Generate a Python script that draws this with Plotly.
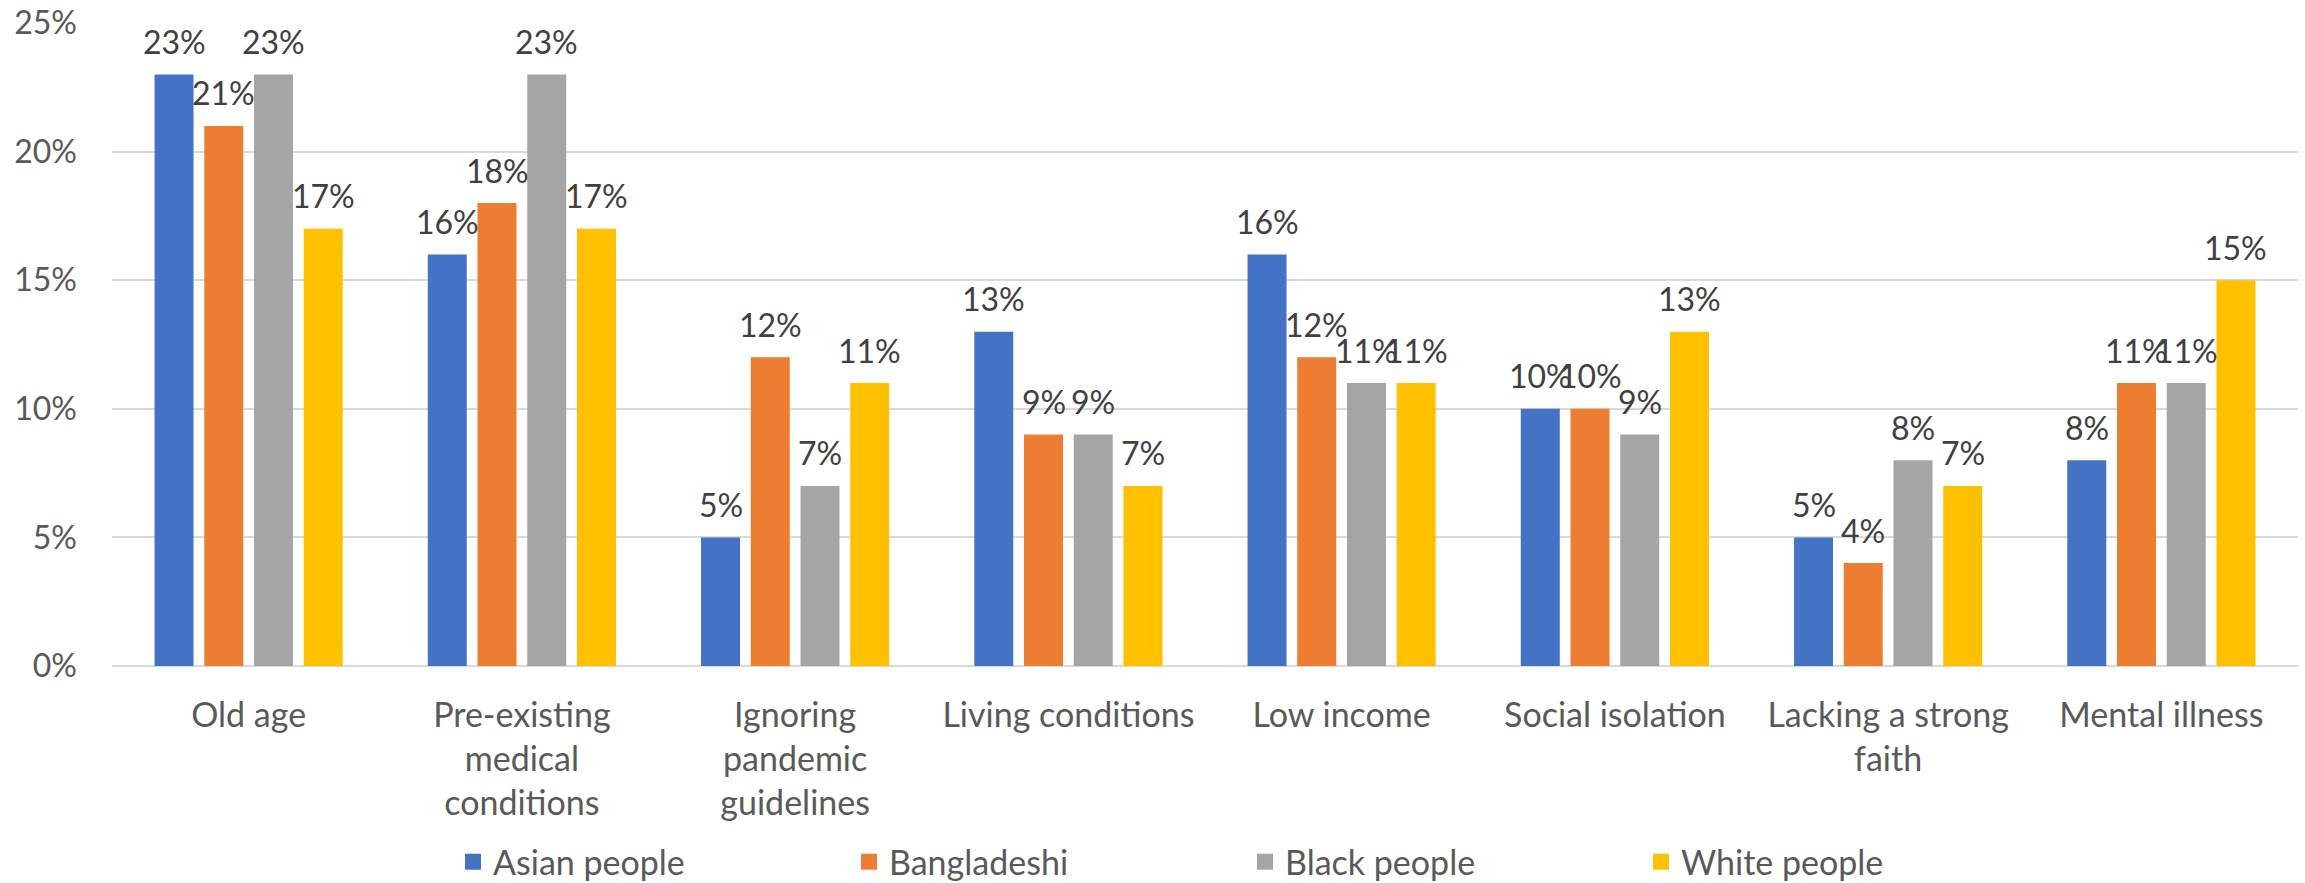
import plotly.graph_objects as go

categories = ["Old age", "Pre-existing<br>medical<br>conditions", "Ignoring<br>pandemic<br>guidelines",
              "Living conditions", "Low income", "Social isolation", "Lacking a strong<br>faith", "Mental illness"]
series_names = ["Asian people", "Bangladeshi", "Black people", "White people"]
asian = [23, 16, 5, 13, 16, 10, 5, 8]
bangladeshi = [21, 18, 12, 9, 12, 10, 4, 11]
black = [23, 23, 7, 9, 11, 9, 8, 11]
white = [17, 17, 11, 7, 11, 13, 7, 15]
y_ticks = [0, 5, 10, 15, 20, 25]
y_tick_labels = ["0%", "5%", "10%", "15%", "20%", "25%"]

series_values = [asian, bangladeshi, black, white]
colors = ["#4472C4", "#ED7D31", "#A5A5A5", "#FFC000"]

FONT = "Lato"
BARGAP = 0.272
BARGROUPGAP = 0.216
n = len(series_names)
slot = (1 - BARGAP) / n
x_idx = list(range(len(categories)))

fig = go.Figure()
for k, (name, vals, col) in enumerate(zip(series_names, series_values, colors)):
    fig.add_trace(go.Bar(x=x_idx, y=vals, name=name, marker=dict(color=col, line=dict(width=0)),
                         showlegend=False, legendgroup=name))
    fig.add_trace(go.Scatter(x=[None], y=[None], mode="markers", name=name, legendgroup=name,
                             marker=dict(symbol="square", size=16, color=col), showlegend=True))
    off = (k - (n - 1) / 2) * slot
    for i, v in enumerate(vals):
        fig.add_annotation(x=i + off, y=v, text=f"{v}%", showarrow=False, yanchor="middle",
                           yshift=33, font=dict(family=FONT, size=32, color="#404040"))

fig.update_layout(
    width=2305, height=883,
    margin=dict(l=112, r=7, t=23, b=217, autoexpand=False),
    paper_bgcolor="white", plot_bgcolor="white",
    barmode="group", bargap=BARGAP, bargroupgap=BARGROUPGAP,
    font=dict(family=FONT, color="#595959"),
    legend=dict(orientation="h", x=0.156, xanchor="left", y=-0.305, yanchor="middle",
                entrywidth=351, entrywidthmode="pixels",
                font=dict(family=FONT, size=34, color="#595959"), bgcolor="rgba(0,0,0,0)"),
)
fig.update_xaxes(range=[-0.5, len(categories) - 0.5], tickvals=x_idx, ticktext=categories,
                 showgrid=False, zeroline=False, showline=False, ticks="",
                 tickfont=dict(family=FONT, size=34, color="#595959"), ticklabelstandoff=26)
fig.update_yaxes(range=[0, 25], tickvals=y_ticks, ticktext=y_tick_labels, showgrid=True, gridcolor="#D9D9D9",
                 gridwidth=2, zeroline=True, zerolinecolor="#D9D9D9", zerolinewidth=2, showline=False,
                 ticks="", tickfont=dict(family=FONT, size=32, color="#595959"), ticklabelstandoff=34)

fig.write_html("out.html")
